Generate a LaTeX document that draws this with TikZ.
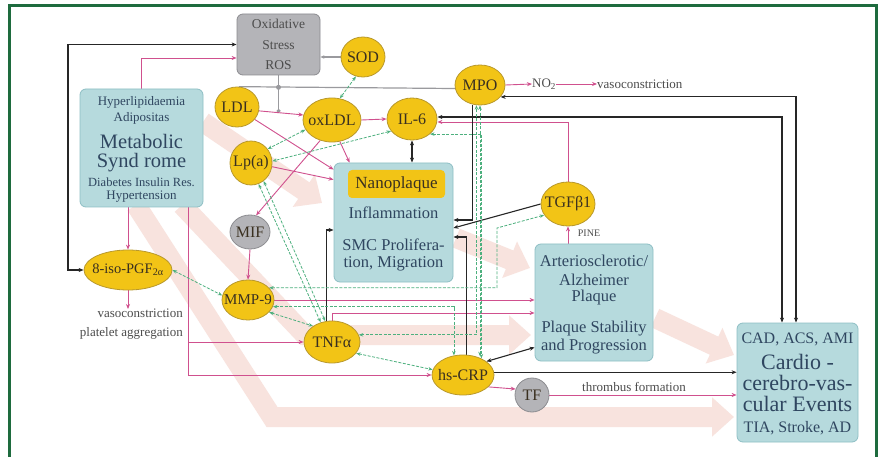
\documentclass[tikz,border=0pt]{standalone}
\usepackage{fontspec}
\setmainfont{Liberation Serif}
\usetikzlibrary{shapes.geometric,arrows.meta}
\pgfdeclarelayer{bands}
\pgfdeclarelayer{links}
\pgfsetlayers{bands,links,main}
\definecolor{framec}{HTML}{1E6B3E}
\definecolor{yelf}{HTML}{F2C416}
\definecolor{yeld}{HTML}{B8982C}
\definecolor{grayf}{HTML}{B4B4B8}
\definecolor{grayd}{HTML}{8C8C90}
\definecolor{bluef}{HTML}{B6DADD}
\definecolor{blued}{HTML}{8EBFC4}
\definecolor{txtblue}{HTML}{2F4660}
\definecolor{txtdark}{HTML}{3A3020}
\definecolor{pinkl}{HTML}{D0508E}
\definecolor{greenl}{HTML}{4DB07E}
\definecolor{grayl}{HTML}{9A9A9E}
\definecolor{bandc}{HTML}{F8E3DE}
\newcommand{\mklab}[1]{\makebox[0pt]{#1}}
\tikzset{
 yel/.style={ellipse,draw=yeld,fill=yelf,line width=0.8pt,inner sep=0pt,text=txtdark,font=\fontsize{16}{16}\selectfont},
 gry/.style={yel,draw=grayd,fill=grayf},
 bbox/.style={rectangle,rounded corners=6pt,draw=blued,fill=bluef,line width=0.8pt,inner sep=0pt},
 btxt/.style={inner sep=0pt,text=txtblue,font=\fontsize{16.5}{16.5}\selectfont},
 stxt/.style={inner sep=0pt,text=black!70,font=\fontsize{13}{13}\selectfont},
 pk/.style={draw=pinkl,line width=0.9pt,-{Stealth[length=5pt,width=4pt]}},
 bk/.style={draw=black!85,line width=1.1pt,-{Stealth[length=5pt,width=4pt]}},
 bkb/.style={draw=black!85,line width=1.1pt,{Stealth[length=5pt,width=4pt]}-{Stealth[length=5pt,width=4pt]}},
 gr/.style={draw=greenl,line width=0.8pt,dash pattern=on 3pt off 1.5pt,{Stealth[length=4.5pt,width=3.5pt]}-{Stealth[length=4.5pt,width=3.5pt]}},
 gy/.style={draw=grayl,line width=1.2pt},
 bandst/.style={draw=bandc,line width=20pt,-{Triangle[length=22pt,width=38pt]}},
 framest/.style={draw=framec,line width=3pt}
}
\begin{document}
\begin{tikzpicture}[x=1pt,y=-1pt]
\useasboundingbox (0,0) rectangle (881,457);

% ---------- nodes ----------
\node[bbox,fill=grayf,draw=grayd,minimum width=83pt,minimum height=61pt,align=center,text=black!70,font=\fontsize{13.5}{20.5}\selectfont] (ros) at (278.5,44.5) {Oxidative\\Stress\\ROS};

\node[yel,minimum width=44pt,minimum height=40pt] (sod) at (363,57) {\mklab{SOD}};
\node[yel,minimum width=50pt,minimum height=40pt] (mpo) at (480,85) {\mklab{MPO}};
\node[yel,minimum width=44pt,minimum height=40pt] (ldl) at (237,107) {\mklab{LDL}};
\node[yel,minimum width=58pt,minimum height=44pt] (oxldl) at (332,120) {\mklab{oxLDL}};
\node[yel,minimum width=50pt,minimum height=42pt] (il6) at (412,119) {\mklab{IL-6}};
\node[yel,minimum width=42pt,minimum height=44pt] (lpa) at (251,163) {\mklab{Lp(a)}};
\node[gry,minimum width=40pt,minimum height=34pt] (mif) at (250,232) {\mklab{MIF}};
\node[yel,minimum width=54pt,minimum height=44pt] (tgf) at (568,204) {\mklab{TGFβ1}};
\node[yel,minimum width=88pt,minimum height=40pt,font=\fontsize{14.5}{14.5}\selectfont] (iso) at (128,270) {\mklab{8-iso-PGF\textsubscript{2α}}};
\node[yel,minimum width=52pt,minimum height=40pt,font=\fontsize{15}{15}\selectfont] (mmp9) at (248,300) {\mklab{MMP-9}};
\node[yel,minimum width=56pt,minimum height=42pt] (tnfa) at (332,342) {\mklab{TNFα}};
\node[yel,minimum width=62pt,minimum height=40pt] (hscrp) at (463,375) {\mklab{hs-CRP}};
\node[gry,minimum width=34pt,minimum height=34pt] (tf) at (532,395) {\mklab{TF}};

% Metabolic syndrome
\node[bbox,minimum width=123pt,minimum height=118pt] (meta) at (141.5,148) {};
\node[btxt,font=\fontsize{13}{13}\selectfont] (m1) at (141.5,102) {Hyperlipidaemia};
\node[btxt,font=\fontsize{13}{13}\selectfont] (m2) at (141.5,118) {Adipositas};
\node[btxt,font=\fontsize{20.5}{20.5}\selectfont] (m3) at (141.5,141) {Metabolic};
\node[btxt,font=\fontsize{20.5}{20.5}\selectfont] (m4) at (141.5,163) {Synd rome};
\node[btxt,font=\fontsize{12.5}{12.5}\selectfont] (m5) at (141.5,182) {Diabetes Insulin Res.};
\node[btxt,font=\fontsize{13}{13}\selectfont] (m6) at (141.5,197) {Hypertension};

% Nanoplaque
\node[bbox,minimum width=119pt,minimum height=119pt] (nano) at (393.5,222.5) {};
\node[rectangle,rounded corners=4pt,fill=yelf,minimum width=97pt,minimum height=28pt,inner sep=0pt,text=txtdark,font=\fontsize{17}{17}\selectfont] (nanolab) at (396.5,184) {Nanoplaque};
\node[btxt] (n1) at (393.5,213) {Inflammation};
\node[btxt] (n2) at (393.5,245) {SMC Prolifera-};
\node[btxt] (n3) at (393.5,264) {tion, Migration};

% Arteriosclerotic plaque
\node[bbox,minimum width=118pt,minimum height=117pt] (arter) at (594,302.5) {};
\node[btxt] (a1) at (594,261) {Arteriosclerotic/};
\node[btxt] (a2) at (594,280) {Alzheimer};
\node[btxt] (a3) at (594,298) {Plaque};
\node[btxt] (a4) at (594,329) {Plaque Stability};
\node[btxt] (a5) at (594,347) {and Progression};

% Cardio-cerebro-vascular events
\node[bbox,minimum width=121pt,minimum height=119pt] (cad) at (797.5,382.5) {};
\node[btxt,font=\fontsize{16}{16}\selectfont] (c1) at (797.5,339) {CAD, ACS, AMI};
\node[btxt,font=\fontsize{22}{22}\selectfont] (c2) at (797.5,362) {Cardio -};
\node[btxt,font=\fontsize{22}{22}\selectfont] (c3) at (797.5,383) {cerebro-vas-};
\node[btxt,font=\fontsize{22}{22}\selectfont] (c4) at (797.5,404) {cular Events};
\node[btxt,font=\fontsize{16}{16}\selectfont] (c5) at (797.5,428) {TIA, Stroke, AD};

% small labels
\node[stxt,anchor=west] (no2) at (532,84) {NO\textsubscript{2}};
\node[stxt,anchor=west] (vasoA) at (597,84) {vasoconstriction};
\node[stxt,anchor=north east,align=right,font=\fontsize{13}{19}\selectfont] (vasoB) at (183,309) {vasoconstriction\\platelet aggregation};
\node[stxt] (thr) at (634,387) {thrombus formation};
\node[stxt,font=\fontsize{10}{10}\selectfont] (pine) at (589,233) {PINE};

\coordinate (br) at (188,342);
\coordinate (rosj) at (278.5,113);
\coordinate (gtc) at (497,228);

% ---------- background bands ----------
\begin{pgfonlayer}{bands}
\fill[white] (0,0) rectangle (881,457);
\draw[bandst] (203,122) -- (322,203);
\draw[bandst] (456,238) -- (530,268);
\draw[bandst] (655,318) -- (734,355);
\draw[bandst] (136,205) -- (272,417) -- (734,417);
\draw[bandst] (182,205) -- (305,335) -- (531,335);
\end{pgfonlayer}

% ---------- connectors ----------
\begin{pgfonlayer}{links}
% gray
\draw[gy,-{Circle[length=4pt]}] (ros.south) -- (rosj);
\draw[gy] (ldl.85) -- (mpo.188);
\fill[grayl] (278.5,87.3) circle (2.5pt);
\draw[gy,{Stealth[length=4pt,width=3.5pt]}-] (ros.east |- sod.west) -- (sod.west);
% pink
\draw[pk] (meta.north) |- (ros.west |- 0,58);
\draw[pk] (iso.north |- meta.south) -- (iso.north);
\draw[pk] (iso.south) -- (iso.south |- vasoB.north);
\draw[pk] (meta.south -| 188,0) |- (hscrp.west);
\draw[pk] (br) -- (tnfa.west);
\draw[pk] (ldl.-10) -- (oxldl.170);
\draw[pk] (oxldl.east) -- (il6.west);
\draw[pk] (ldl.-35) -- ([yshift=-7pt]nano.north west);
\draw[pk] (oxldl.-70) -- ([xshift=16pt]nano.north west);
\draw[pk] (lpa.-10) -- ([yshift=-17pt]nano.north west);
\draw[pk] (oxldl.-120) -- (mif.70);
\draw[pk] (mif.south) -- (mmp9.north);
\draw[pk] (mmp9.east) -- (mmp9.east -| arter.west);
\draw[pk] (tnfa.north) |- (arter.west |- 0,313);
\draw[pk] (tgf.north) |- ([yshift=-3pt]il6.east);
\draw[pk] (arter.north -| tgf.south) -- (tgf.south);
\draw[pk] (mpo.east) -- (no2.west);
\draw[pk] (no2.east) -- (vasoA.west);
\draw[pk] (hscrp.-25) -- (tf.160);
\draw[pk] (tf.east) -- (tf.east -| cad.west);
% black
\draw[bkb] (iso.west) -- (68,270) |- (ros.west);
\draw[bkb] (il6.south) -- (il6.south |- nano.north);
\draw[bk] (mpo.-110) |- ([yshift=2.5pt]nano.east);
\draw[bk] (hscrp.80) |- ([yshift=-14.5pt]nano.east);
\draw[bk] (tgf.west) -- ([yshift=-5.5pt]nano.east);
\draw[bk] (tnfa.105) |- ([yshift=-7.5pt]nano.west);
\draw[bkb] (mpo.-30) -| ([xshift=-1.5pt]cad.north);
\draw[bkb] ([yshift=2pt]il6.east) -| ([xshift=-15.5pt]cad.north);
\draw[bk] (hscrp.5) -- (hscrp.5 -| cad.west);
\draw[bkb] (hscrp.30) -- ([yshift=14pt]arter.south west);
% green
\draw[gr] (sod.-110) -- (oxldl.70);
\draw[gr] (oxldl.200) -- (lpa.40);
\draw[gr] (il6.210) -- (lpa.5);
\draw[gr] (lpa.-70) -- (tnfa.120);
\draw[gr] (lpa.-55) -- (tnfa.108);
\draw[gr] (iso.east) -- (mmp9.170);
\draw[gr] (mmp9.-30) -- (tnfa.140);
\draw[gr] (tnfa.-25) -- (hscrp.170);
\draw[gr] (mmp9.30) -| (gtc) -- (tgf.205);
\draw[gr] (mmp9.-15) -| (hscrp.115);
\draw[gr] (mpo.south) -- (mpo.south |- hscrp.57);
\draw[gr] (il6.-40) -| (hscrp.42);
\draw[gr] (tnfa.15) -| (mpo.-100);
\end{pgfonlayer}

% frame
\draw[framest] (9.5,457) -- (9.5,5.5) -- (876.5,5.5) -- (876.5,457);
\end{tikzpicture}
\end{document}
